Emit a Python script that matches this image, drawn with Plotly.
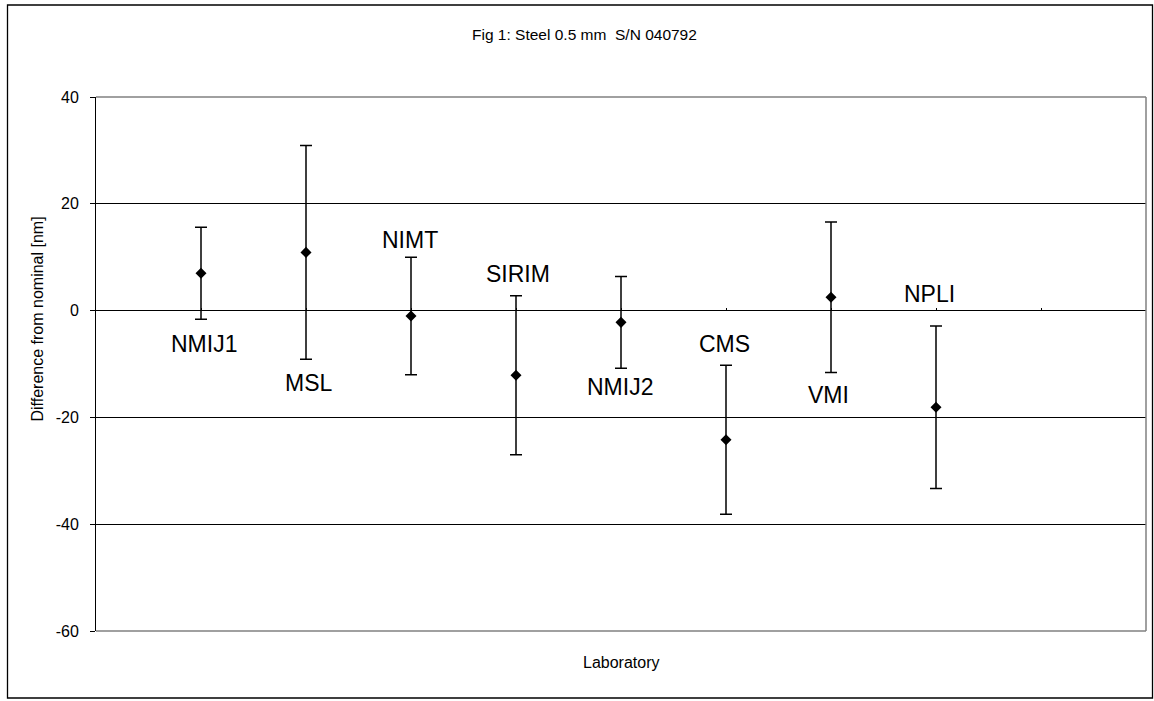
import plotly.graph_objects as go

# ---- data ----
labs = ["NMIJ1", "MSL", "NIMT", "SIRIM", "NMIJ2", "CMS", "VMI", "NPLI"]
lab_pos = [1, 2, 3, 4, 5, 6, 7, 8]
diff_nm = [7.0, 10.9, -1.0, -12.1, -2.2, -24.2, 2.5, -18.1]
unc_nm = [8.6, 20.0, 11.0, 14.9, 8.6, 13.95, 14.1, 15.2]
label_y = [-6.2, -13.5, 13.2, 6.85, -14.3, -6.2, -15.8, 3.2]
label_dx = [3, 3, -1, 2, -1, -2, -3, -7]
y_ticks = [-60, -40, -20, 0, 20, 40]
y_ticktext = ["-60", "-40", "-20", "0", "20", "40"]

# ---- layout geometry (pixels) ----
W, H = 1154, 701
L, R, T, B = 96, 1146, 97, 631
FONT = "Arial, Liberation Sans, sans-serif"


def px(x):
    return (x - L) / (R - L)


def py(y):
    return (B - y) / (B - T)


fig = go.Figure()
fig.add_trace(go.Scatter(
    x=lab_pos, y=diff_nm, mode="markers",
    marker=dict(symbol="diamond", size=8.5, color="black"),
    error_y=dict(type="data", array=unc_nm, visible=True,
                 color="black", thickness=1.5, width=6),
    showlegend=False, hoverinfo="skip",
))

annotations = []
for lab, xp, ly, dx in zip(labs, lab_pos, label_y, label_dx):
    annotations.append(dict(x=xp, y=ly, xref="x", yref="y", text=lab,
                            showarrow=False, xshift=dx,
                            font=dict(family=FONT, size=23, color="black"),
                            xanchor="center", yanchor="middle"))

annotations.append(dict(x=px(584), y=py(35), xref="paper", yref="paper",
                        text="Fig 1: Steel 0.5 mm  S/N 040792", showarrow=False,
                        font=dict(family=FONT, size=15.5, color="black"),
                        xanchor="center", yanchor="middle"))
annotations.append(dict(x=px(621), y=py(662), xref="paper", yref="paper",
                        text="Laboratory", showarrow=False,
                        font=dict(family=FONT, size=16, color="black"),
                        xanchor="center", yanchor="middle"))
annotations.append(dict(x=px(37), y=py(319.5), xref="paper", yref="paper",
                        text="Difference from nominal [nm]", showarrow=False,
                        textangle=-90,
                        font=dict(family=FONT, size=16, color="black"),
                        xanchor="center", yanchor="middle"))

shapes = [
    # outer chart border
    dict(type="rect", xref="paper", yref="paper",
         x0=px(7.5), x1=px(1152.5), y0=py(698), y1=py(5),
         line=dict(color="black", width=1.3), fillcolor="rgba(0,0,0,0)",
         layer="below"),
    # plot area gray border (top, right, bottom)
    dict(type="line", xref="paper", yref="paper", x0=0, x1=1, y0=1, y1=1,
         line=dict(color="#808080", width=1.5)),
    dict(type="line", xref="paper", yref="paper", x0=1, x1=1, y0=0, y1=1,
         line=dict(color="#808080", width=1.5)),
    dict(type="line", xref="paper", yref="paper", x0=0, x1=1, y0=0, y1=0,
         line=dict(color="#808080", width=1.5)),
]

fig.update_layout(
    width=W, height=H,
    margin=dict(l=L, r=W - R, t=T, b=H - B, pad=0),
    paper_bgcolor="white", plot_bgcolor="white",
    annotations=annotations, shapes=shapes,
    xaxis=dict(range=[0, 10], showgrid=False, zeroline=False,
               showline=False,
               anchor="free", position=(0 - y_ticks[0]) / (y_ticks[-1] - y_ticks[0]),
               ticks="inside", ticklen=3, tickcolor="black",
               tick0=0, dtick=1, showticklabels=False, fixedrange=True),
    yaxis=dict(range=[y_ticks[0], y_ticks[-1]], tickvals=y_ticks,
               ticktext=y_ticktext, ticklabelstandoff=8,
               showgrid=True, gridcolor="black", gridwidth=1.2,
               zeroline=False, showline=True, linecolor="black", linewidth=1,
               ticks="outside", ticklen=5, tickcolor="black",
               tickfont=dict(family=FONT, size=16, color="black"),
               fixedrange=True),
)

fig.write_html("out.html")
